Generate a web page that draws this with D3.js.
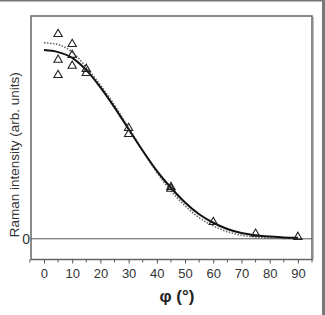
<!DOCTYPE html>
<html>
<head>
<meta charset="utf-8">
<script src="https://cdn.jsdelivr.net/npm/d3@7"></script>
<style>
  html, body { margin: 0; padding: 0; background: #fff; }
  svg { display: block; font-family: 'Liberation Sans', Arial, sans-serif; }
</style>
</head>
<body>
<div id="chart"></div>
<script>
// measured points (open triangles)
const pointAngles = [5, 5, 5, 10, 10, 10, 15, 15, 30, 30, 45, 45, 60, 75, 90];
const pointValues = [0.919, 0.803, 0.735, 0.874, 0.825, 0.776, 0.762, 0.744, 0.497, 0.470, 0.232, 0.224, 0.075, 0.022, 0.008];

// fitted curves
const curveAngles = [0, 5, 10, 15, 20, 25, 30, 35, 40, 45, 50, 55, 60, 65, 70, 75, 80, 85, 90];
const solidFit  = [0.847, 0.838, 0.812, 0.757, 0.680, 0.590, 0.492, 0.395, 0.305, 0.229, 0.163, 0.110, 0.072, 0.044, 0.026, 0.016, 0.010, 0.006, 0.005];
const dottedFit = [0.880, 0.872, 0.838, 0.770, 0.690, 0.600, 0.498, 0.395, 0.298, 0.215, 0.148, 0.095, 0.058, 0.032, 0.016, 0.008, 0.004, 0.002, 0.002];

const xTicks = [0, 10, 20, 30, 40, 50, 60, 70, 80, 90];
const xMinorTicks = [-5, 5, 15, 25, 35, 45, 55, 65, 75, 85, 95];

const width = 325, height = 315;
const box = { left: 31, top: 16, right: 312, bottom: 259.5 };

const svg = d3.select('#chart').append('svg')
  .attr('width', width).attr('height', height);

// screenshot frame edges (top and right)
svg.append('rect').attr('x', 0).attr('y', 0).attr('width', width).attr('height', 1.5).attr('fill', '#777');
svg.append('rect').attr('x', 322).attr('y', 0).attr('width', 3).attr('height', height).attr('fill', '#777');

const x = d3.scaleLinear().domain([-4.6, 95]).range([box.left, box.right]);
const y = d3.scaleLinear().domain([-0.093, 1.0]).range([box.bottom, box.top]);

// plot box
svg.append('rect')
  .attr('x', box.left).attr('y', box.top)
  .attr('width', box.right - box.left).attr('height', box.bottom - box.top)
  .attr('fill', 'none').attr('stroke', '#666').attr('stroke-width', 1.5);
svg.append('line')
  .attr('x1', box.right + 1.5).attr('x2', box.right + 1.5)
  .attr('y1', box.top + 1).attr('y2', box.bottom)
  .attr('stroke', '#bbb').attr('stroke-width', 1);

// zero line
svg.append('line')
  .attr('x1', box.left).attr('x2', box.right)
  .attr('y1', y(0)).attr('y2', y(0))
  .attr('stroke', '#555').attr('stroke-width', 1);
svg.append('text')
  .attr('x', box.left - 1).attr('y', y(0) + 5)
  .attr('text-anchor', 'end').attr('font-size', 14).attr('fill', '#333')
  .text('0');

// x axis
const xAxis = svg.append('g').attr('transform', `translate(0,${box.bottom})`)
  .call(d3.axisBottom(x).tickValues(xTicks).tickSize(4).tickPadding(5).tickFormat(d3.format('d')));
xAxis.select('.domain').remove();
xAxis.selectAll('line').attr('stroke', '#555');
xAxis.selectAll('text').attr('font-size', 13).attr('fill', '#333')
  .style('font-family', "'Liberation Sans', Arial, sans-serif");
svg.append('g').selectAll('line').data(xMinorTicks).join('line')
  .attr('x1', (d) => x(d)).attr('x2', (d) => x(d))
  .attr('y1', box.bottom).attr('y2', box.bottom + 3)
  .attr('stroke', '#555');

// axis titles
svg.append('text')
  .attr('x', (x(0) + x(90)) / 2 + 6).attr('y', 302)
  .attr('text-anchor', 'middle').attr('font-size', 17).attr('font-weight', 'bold').attr('fill', '#222')
  .text('φ (°)');
svg.append('text')
  .attr('transform', `translate(19,${(box.top + box.bottom) / 2 + 17}) rotate(-90)`)
  .attr('text-anchor', 'middle').attr('font-size', 13.5).attr('fill', '#333')
  .text('Raman intensity (arb. units)');

// curves
const line = (vals) => d3.line()
  .x((d, i) => x(curveAngles[i]))
  .y((d) => y(d))
  .curve(d3.curveMonotoneX)(vals);

svg.append('path').attr('d', line(dottedFit))
  .attr('fill', 'none').attr('stroke', '#666').attr('stroke-width', 1.6)
  .attr('stroke-dasharray', '1.5 1.5');
svg.append('path').attr('d', line(solidFit))
  .attr('fill', 'none').attr('stroke', '#111').attr('stroke-width', 2);

// triangles
svg.append('g').selectAll('path').data(pointAngles).join('path')
  .attr('transform', (d, i) => `translate(${x(d)},${y(pointValues[i])})`)
  .attr('d', d3.symbol().type(d3.symbolTriangle).size(30))
  .attr('fill', 'none').attr('stroke', '#222').attr('stroke-width', 1.1);
</script>
</body>
</html>
